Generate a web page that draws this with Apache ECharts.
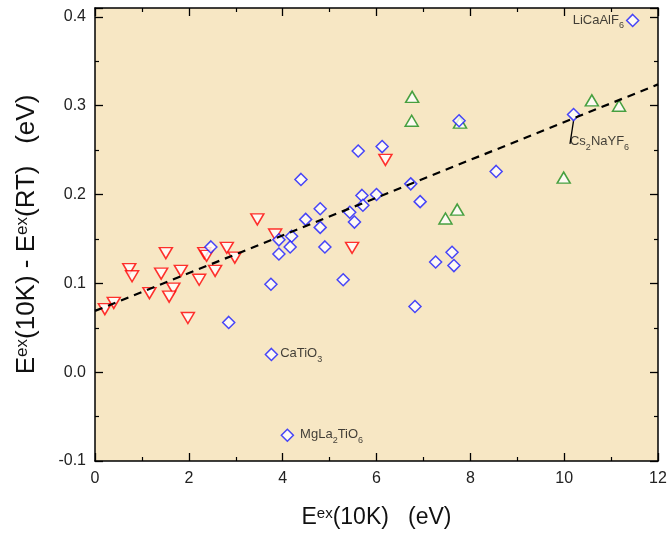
<!DOCTYPE html>
<html>
<head>
<meta charset="utf-8">
<script src="https://cdn.jsdelivr.net/npm/echarts@6/dist/echarts.min.js"></script>
<style>html,body{margin:0;padding:0;background:#fff;}#chart{width:670px;height:534px;}</style>
</head>
<body>
<div id="chart"></div>
<script>
// Blue diamonds: [Eex(10K), shift]
var blueData = [
  [11.46, 0.396], [10.20, 0.290], [7.76, 0.283], [6.12, 0.254], [5.61, 0.249],
  [4.39, 0.217], [4.80, 0.184], [4.49, 0.172], [4.80, 0.163], [4.19, 0.153],
  [3.92, 0.149], [4.16, 0.141], [3.92, 0.133], [4.90, 0.141], [3.75, 0.099],
  [5.29, 0.104], [5.69, 0.199], [5.71, 0.188], [6.00, 0.200], [5.43, 0.180],
  [5.53, 0.169], [6.73, 0.212], [6.93, 0.192], [7.26, 0.124], [8.55, 0.226],
  [2.47, 0.141], [2.85, 0.056], [3.76, 0.020], [4.10, -0.071], [6.82, 0.074],
  [7.61, 0.135], [7.65, 0.120]
];
// Red down-triangles
var redData = [
  [0.21, 0.071], [0.40, 0.078], [0.73, 0.116], [0.79, 0.108], [1.51, 0.134],
  [1.41, 0.111], [1.16, 0.089], [1.67, 0.094], [1.58, 0.085], [1.98, 0.061],
  [1.83, 0.114], [2.22, 0.104], [2.33, 0.134], [2.38, 0.131], [2.56, 0.114],
  [2.81, 0.140], [2.98, 0.129], [3.46, 0.172], [3.84, 0.155], [5.48, 0.140],
  [6.19, 0.239]
];
// Green up-triangles
var greenData = [
  [6.76, 0.310], [6.75, 0.283], [7.78, 0.281], [9.99, 0.219], [7.72, 0.183],
  [7.47, 0.173], [10.59, 0.306], [11.17, 0.300]
];
// Linear fit (dashed)
var fitX = [0, 12];
var fitY = [0.069, 0.324];
// Annotated compounds (index into blueData) and their rich labels
var annotIndex = [0, 1, 27, 28];
var annotText = [
  '{n|LiCaAlF}{s|6}',
  '{n|Cs}{s|2}{n|NaYF}{s|6}',
  '{n|CaTiO}{s|3}',
  '{n|MgLa}{s|2}{n|TiO}{s|6}'
];
var xTicks = [0, 2, 4, 6, 8, 10, 12];
var yTicks = [-0.1, 0.0, 0.1, 0.2, 0.3, 0.4];

var FONT = 'Arial, "Liberation Sans", sans-serif';
var subRich = {
  n: {fontSize: 13, fontFamily: FONT, color: '#111', lineHeight: 14, verticalAlign: 'top'},
  s: {fontSize: 9, fontFamily: FONT, color: '#111', lineHeight: 10, padding: [8, 0, 0, 0], verticalAlign: 'top'}
};
var annotLabel = [
  {position: 'left', distance: 2, offset: [5, 9]},
  {position: 'bottom', distance: 0, offset: [0, 0]},
  {position: 'right', distance: 2, offset: [0, 3]},
  {position: 'right', distance: 6, offset: [0, 1.5]}
];

var blueItems = blueData.map(function (d, i) {
  var k = annotIndex.indexOf(i);
  var item = {value: d};
  if (k >= 0) {
    item.label = Object.assign({show: true, formatter: annotText[k], rich: subRich}, annotLabel[k]);
    if (k === 1) item.labelLine = {show: true, lineStyle: {color: '#000', width: 1.3}};
  }
  return item;
});

var chart = echarts.init(document.getElementById('chart'), null, {renderer: 'canvas'});
var axisLine = {show: true, onZero: false, lineStyle: {color: '#000', width: 1.5}};
var tickIn = {show: true, inside: true, length: 8, lineStyle: {color: '#000', width: 1.3}};
var minorIn = {show: true, splitNumber: 2, length: 4, lineStyle: {color: '#000', width: 1.2}};
var xNameRich = {
  n: {fontSize: 23, fontFamily: FONT, color: '#111', lineHeight: 28, verticalAlign: 'top'},
  e: {fontSize: 15, fontFamily: FONT, color: '#111', lineHeight: 15, verticalAlign: 'top'}
};
var yNameRich = {
  n: {fontSize: 26, fontFamily: FONT, color: '#111', lineHeight: 30, verticalAlign: 'top'},
  e: {fontSize: 17, fontFamily: FONT, color: '#111', lineHeight: 16, verticalAlign: 'top'}
};

chart.setOption({
  backgroundColor: '#ffffff',
  animation: false,
  grid: {left: 95, right: 12, top: 8, bottom: 71, show: true, backgroundColor: '#f7e7c4', borderWidth: 0},
  xAxis: [{
    type: 'value', min: 0, max: 12, interval: 2, position: 'bottom',
    axisLine: axisLine, axisTick: tickIn, minorTick: minorIn, splitLine: {show: false},
    axisLabel: {fontSize: 16, fontFamily: FONT, color: '#222', margin: 10,
      formatter: function (v) { return xTicks.indexOf(v) >= 0 ? String(v) : ''; }},
    name: '{n|E}{e|ex}{n|(10K)   (eV)}', nameLocation: 'middle', nameGap: 45,
    nameTextStyle: {rich: xNameRich}
  }, {
    type: 'value', min: 0, max: 12, interval: 2, position: 'top',
    axisLine: axisLine, axisTick: tickIn, minorTick: minorIn, splitLine: {show: false},
    axisLabel: {show: false}
  }],
  yAxis: [{
    type: 'value', min: -0.1, max: 0.41, interval: 0.1, position: 'left',
    axisLine: axisLine, axisTick: tickIn, minorTick: minorIn, splitLine: {show: false},
    axisLabel: {fontSize: 16, fontFamily: FONT, color: '#222', margin: 9, showMaxLabel: false,
      formatter: function (v) {
        for (var i = 0; i < yTicks.length; i++) if (Math.abs(yTicks[i] - v) < 1e-6) return yTicks[i].toFixed(1);
        return '';
      }},
    name: '{n|E}{e|ex}{n|(10K) - E}{e|ex}{n|(RT)   (eV)}', nameLocation: 'middle', nameGap: 51, nameRotate: 90,
    nameTextStyle: {rich: yNameRich}
  }, {
    type: 'value', min: -0.1, max: 0.41, interval: 0.1, position: 'right',
    axisLine: axisLine, axisTick: tickIn, minorTick: minorIn, splitLine: {show: false},
    axisLabel: {show: false}
  }],
  series: [{
    type: 'scatter', name: 'red', data: redData, symbol: 'triangle', symbolRotate: 180, symbolSize: [13, 11],
    itemStyle: {color: '#ffffff', borderColor: '#ff0000', borderWidth: 1.5}, z: 2
  }, {
    type: 'scatter', name: 'green', data: greenData, symbol: 'triangle', symbolSize: [13, 11],
    itemStyle: {color: '#ffffff', borderColor: '#1a8c1a', borderWidth: 1.5}, z: 3
  }, {
    type: 'scatter', name: 'blue', data: blueItems, symbol: 'diamond', symbolSize: [12, 12],
    itemStyle: {color: '#ffffff', borderColor: '#1a1aff', borderWidth: 1.5}, z: 4,
    labelLayout: function (params) {
      if (params.dataIndex === annotIndex[1]) {
        return {dx: 26, dy: 14};
      }
    }
  }, {
    type: 'line', name: 'fit', data: fitX.map(function (x, i) { return [x, fitY[i]]; }),
    symbol: 'none', lineStyle: {color: '#000', width: 2.2, type: [8, 6]}, z: 5, silent: true
  }]
});
</script>
</body>
</html>
